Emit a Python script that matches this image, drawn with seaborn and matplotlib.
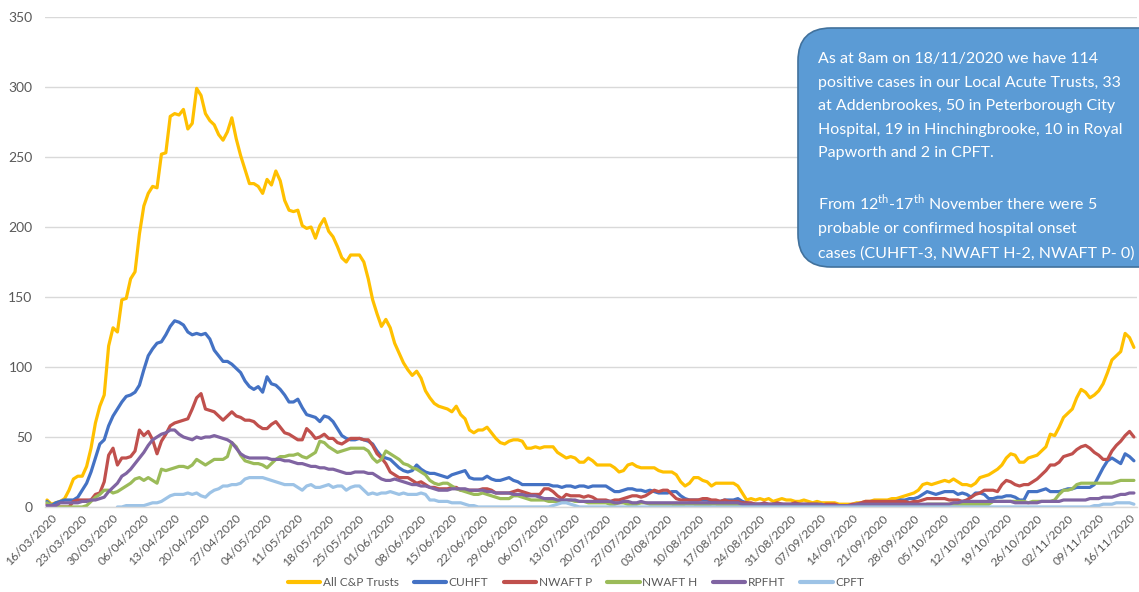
import numpy as np
import pandas as pd
import matplotlib
matplotlib.use("Agg")
import matplotlib.pyplot as plt
from matplotlib.patches import FancyBboxPatch
from matplotlib.transforms import ScaledTranslation
import seaborn as sns

start_date = "2020-03-16"
end_date = "2020-11-18"
series_names = ["All C&P Trusts", "CUHFT", "NWAFT P", "NWAFT H", "RPFHT", "CPFT"]
series_colors = ["#FFC000", "#4472C4", "#C0504D", "#9BBB59", "#8064A2", "#9DC3E6"]

all_cp = [5, 2, 3, 4, 6, 12, 20,
          22, 22, 29, 42, 60, 72, 80,
          115, 128, 125, 148, 149, 163, 168,
          195, 215, 224, 229, 228, 252, 253,
          279, 281, 280, 284, 270, 274, 299,
          294, 281, 276, 273, 266, 262, 268,
          278, 263, 251, 241, 231, 231, 229,
          224, 234, 230, 240, 233, 219, 212,
          211, 212, 201, 199, 200, 192, 201,
          206, 197, 193, 186, 178, 175, 180,
          180, 180, 175, 163, 148, 138, 129,
          134, 128, 117, 110, 103, 98, 94,
          97, 92, 83, 78, 74, 72, 71,
          70, 68, 72, 66, 63, 55, 53,
          55, 55, 57, 53, 49, 46, 45,
          47, 48, 48, 47, 42, 42, 43,
          42, 43, 43, 43, 39, 37, 35,
          36, 35, 32, 32, 35, 33, 30,
          30, 30, 30, 28, 25, 26, 30,
          31, 29, 28, 28, 28, 28, 26,
          25, 25, 25, 23, 18, 15, 17,
          21, 21, 19, 18, 15, 17, 17,
          17, 17, 17, 15, 10, 5, 6,
          5, 6, 5, 6, 4, 5, 6,
          5, 5, 4, 4, 5, 4, 3,
          4, 3, 3, 3, 3, 2, 2,
          2, 2, 3, 3, 4, 4, 5,
          5, 5, 5, 6, 6, 7, 8,
          9, 10, 12, 16, 17, 16, 17,
          18, 19, 18, 20, 18, 16, 16,
          15, 17, 21, 22, 23, 25, 27,
          30, 35, 38, 37, 32, 32, 35,
          36, 37, 40, 43, 52, 51, 57,
          64, 67, 70, 78, 84, 82, 78,
          80, 83, 88, 96, 105, 108, 111,
          124, 121, 114]

cuhft = [4, 1, 3, 4, 5, 5, 5,
         7, 12, 17, 25, 35, 45, 48,
         58, 65, 70, 75, 79, 80, 82,
         87, 98, 108, 113, 117, 118, 123,
         129, 133, 132, 130, 125, 123, 124,
         123, 124, 120, 112, 108, 104, 104,
         102, 99, 96, 90, 86, 84, 86,
         82, 93, 88, 87, 84, 80, 75,
         75, 77, 71, 66, 65, 64, 61,
         65, 64, 61, 56, 51, 49, 48,
         48, 49, 48, 47, 45, 40, 36,
         35, 34, 31, 28, 26, 25, 26,
         30, 27, 25, 24, 24, 23, 22,
         21, 23, 24, 25, 26, 21, 20,
         20, 20, 22, 20, 19, 19, 20,
         21, 19, 18, 16, 16, 16, 16,
         16, 16, 16, 15, 15, 14, 15,
         15, 14, 15, 15, 14, 15, 15,
         15, 15, 13, 11, 11, 12, 13,
         13, 12, 12, 11, 12, 11, 10,
         10, 10, 11, 11, 8, 6, 5,
         5, 5, 5, 5, 4, 4, 4,
         5, 5, 5, 6, 4, 3, 2,
         2, 2, 2, 1, 2, 2, 2,
         1, 1, 1, 1, 1, 1, 1,
         1, 1, 1, 0, 0, 0, 0,
         0, 1, 1, 2, 1, 2, 2,
         2, 2, 3, 3, 4, 5, 5,
         6, 6, 7, 9, 11, 10, 9,
         10, 11, 11, 11, 9, 10, 9,
         7, 10, 10, 9, 6, 6, 7,
         7, 8, 8, 7, 5, 5, 11,
         11, 11, 12, 13, 11, 11, 11,
         12, 13, 13, 14, 14, 14, 14,
         16, 22, 28, 33, 35, 33, 31,
         38, 36, 33]

nwaft_p = [2, 1, 0, 0, 0, 0, 4,
           5, 5, 5, 5, 9, 10, 18,
           37, 42, 30, 35, 35, 36, 40,
           55, 51, 54, 48, 38, 47, 52,
           58, 60, 61, 62, 63, 70, 78,
           81, 70, 69, 68, 65, 62, 65,
           68, 65, 64, 62, 62, 61, 58,
           56, 56, 59, 61, 57, 53, 52,
           50, 48, 48, 56, 53, 49, 50,
           52, 49, 49, 46, 45, 47, 49,
           49, 49, 48, 48, 44, 38, 35,
           31, 25, 23, 21, 21, 21, 19,
           17, 18, 16, 14, 14, 13, 13,
           13, 14, 14, 12, 12, 12, 12,
           12, 13, 13, 12, 10, 10, 10,
           10, 11, 12, 11, 10, 9, 9,
           9, 13, 13, 11, 8, 6, 9,
           8, 8, 8, 7, 8, 7, 5,
           5, 5, 4, 5, 5, 6, 7,
           8, 8, 7, 8, 10, 12, 11,
           12, 12, 9, 6, 5, 5, 5,
           5, 5, 6, 6, 5, 5, 4,
           5, 4, 4, 4, 3, 3, 3,
           2, 2, 3, 2, 2, 3, 2,
           2, 2, 3, 2, 2, 2, 2,
           2, 1, 2, 2, 2, 1, 1,
           1, 2, 2, 3, 4, 4, 4,
           4, 4, 4, 4, 4, 4, 4,
           3, 4, 4, 5, 6, 6, 6,
           6, 6, 5, 5, 5, 4, 5,
           7, 9, 10, 12, 12, 12, 11,
           16, 19, 18, 16, 15, 16, 16,
           18, 20, 23, 26, 30, 30, 32,
           36, 37, 38, 41, 43, 44, 42,
           39, 37, 34, 34, 40, 44, 47,
           51, 54, 50]

nwaft_h = [3, 1, 0, 0, 0, 0, 0,
           0, 0, 1, 4, 7, 9, 12,
           12, 10, 11, 13, 15, 17, 20,
           21, 19, 21, 19, 17, 27, 26,
           27, 28, 29, 29, 28, 30, 34,
           32, 30, 32, 34, 34, 34, 36,
           46, 43, 37, 33, 32, 31, 31,
           30, 28, 31, 34, 36, 36, 37,
           37, 38, 36, 35, 37, 39, 47,
           46, 43, 41, 39, 40, 41, 42,
           42, 42, 42, 40, 35, 32, 34,
           40, 38, 36, 34, 31, 30, 28,
           27, 25, 23, 19, 17, 16, 17,
           17, 15, 13, 12, 11, 10, 9,
           9, 10, 9, 8, 7, 6, 6,
           6, 8, 8, 7, 6, 5, 5,
           5, 5, 4, 4, 4, 4, 5,
           5, 4, 4, 4, 3, 3, 3,
           3, 3, 2, 2, 3, 3, 2,
           2, 2, 3, 3, 2, 2, 2,
           2, 2, 2, 1, 1, 2, 2,
           2, 1, 1, 1, 2, 2, 1,
           1, 1, 1, 1, 1, 1, 1,
           1, 1, 1, 1, 1, 1, 1,
           1, 1, 1, 1, 1, 1, 1,
           1, 1, 1, 1, 1, 1, 1,
           1, 1, 1, 1, 1, 1, 1,
           1, 1, 1, 1, 1, 1, 1,
           1, 1, 1, 1, 2, 2, 2,
           2, 2, 2, 2, 2, 2, 2,
           2, 2, 2, 2, 2, 4, 4,
           4, 4, 4, 4, 4, 4, 3,
           4, 4, 4, 4, 4, 5, 9,
           12, 12, 13, 16, 17, 17, 17,
           17, 17, 17, 17, 17, 18, 19,
           19, 19, 19]

rpfht = [1, 1, 1, 3, 3, 3, 3,
         3, 4, 4, 5, 5, 6, 7,
         11, 14, 17, 22, 24, 27, 31,
         35, 39, 44, 48, 50, 52, 53,
         55, 55, 52, 50, 49, 48, 50,
         49, 50, 50, 51, 50, 49, 48,
         46, 42, 38, 36, 35, 35, 35,
         35, 35, 34, 34, 34, 33, 33,
         32, 31, 31, 30, 29, 29, 28,
         28, 27, 27, 26, 25, 24, 24,
         25, 25, 25, 24, 24, 22, 20,
         19, 19, 20, 19, 18, 17, 16,
         16, 15, 15, 14, 13, 12, 12,
         12, 13, 13, 13, 13, 12, 12,
         12, 12, 11, 11, 10, 10, 10,
         10, 9, 9, 9, 8, 8, 8,
         7, 6, 6, 6, 5, 5, 5,
         5, 5, 4, 4, 4, 4, 4,
         4, 4, 4, 3, 3, 4, 4,
         3, 3, 4, 3, 3, 3, 3,
         3, 3, 3, 3, 3, 3, 3,
         3, 3, 3, 3, 3, 3, 3,
         3, 3, 3, 3, 2, 2, 2,
         2, 2, 2, 2, 2, 2, 2,
         2, 2, 2, 2, 2, 2, 2,
         2, 2, 1, 1, 1, 1, 1,
         1, 1, 2, 2, 2, 2, 2,
         2, 2, 2, 2, 2, 2, 2,
         2, 2, 2, 2, 2, 2, 2,
         2, 2, 2, 3, 3, 4, 4,
         4, 4, 4, 4, 4, 4, 4,
         4, 4, 4, 3, 3, 3, 3,
         3, 3, 4, 4, 4, 4, 4,
         5, 5, 5, 5, 5, 5, 6,
         6, 6, 7, 7, 7, 8, 9,
         9, 10, 10]

nan = np.nan
cpft = [nan, nan, nan, nan, nan, nan, nan,
        nan, nan, nan, nan, nan, nan, nan,
        nan, nan, 0, 0, 1, 1, 1,
        1, 1, 2, 3, 3, 4, 6,
        8, 9, 9, 9, 10, 9, 10,
        8, 7, 10, 12, 13, 15, 15,
        16, 16, 17, 20, 21, 21, 21,
        21, 20, 19, 18, 17, 16, 16,
        16, 14, 12, 15, 16, 14, 14,
        15, 16, 14, 15, 15, 12, 14,
        15, 15, 12, 9, 10, 9, 10,
        10, 11, 10, 9, 10, 9, 9,
        9, 10, 9, 5, 5, 4, 4,
        4, 3, 3, 3, 2, 1, 1,
        0, 0, 0, 0, 0, 0, 0,
        0, 0, 0, 0, 0, 0, 0,
        0, 0, 0, 1, 2, 3, 3,
        2, 1, 0, 0, 0, 0, 0,
        0, 0, 0, 0, 0, 0, 0,
        0, 0, 0, 0, 0, 0, 0,
        0, 0, 0, 0, 0, 0, 0,
        0, 0, 0, 0, 0, 0, 0,
        0, 0, 0, 0, 0, 0, 0,
        0, 0, 0, 0, 0, 0, 0,
        0, 0, 0, 0, 0, 0, 0,
        0, 0, 0, 0, 0, 0, 0,
        0, 0, 0, 0, 0, 0, 0,
        0, 0, 0, 0, 0, 0, 0,
        0, 0, 0, 0, 0, 0, 0,
        0, 0, 0, 0, 0, 0, 0,
        0, 0, 0, 0, 0, 0, 0,
        0, 0, 0, 0, 0, 0, 0,
        0, 0, 0, 0, 0, 0, 0,
        0, 0, 0, 0, 0, 0, 0,
        1, 1, 2, 2, 2, 3, 3,
        3, 3, 2]

y_ticks = [0, 50, 100, 150, 200, 250, 300, 350]

box_para1 = ("As at 8am on 18/11/2020 we have 114\n"
             "positive cases in our Local Acute Trusts, 33\n"
             "at Addenbrookes, 50 in Peterborough City\n"
             "Hospital, 19 in Hinchingbrooke, 10 in Royal\n"
             "Papworth and 2 in CPFT.")
box_para2 = ("From 12$^{\\mathregular{th}}$-17$^{\\mathregular{th}}$ November there were 5\n"
             "probable or confirmed hospital onset\n"
             "cases (CUHFT-3, NWAFT H-2, NWAFT P- 0)")

# ---- data frame ----
dates = pd.date_range(start_date, end_date, freq="D")
frames = []
for name, vals in zip(series_names, [all_cp, cuhft, nwaft_p, nwaft_h, rpfht, cpft]):
    frames.append(pd.DataFrame({"date": dates, "value": vals, "series": name}))
df = pd.concat(frames, ignore_index=True).dropna()

sns.set_theme(style="white")
plt.rcParams["font.family"] = ["Lato", "DejaVu Sans"]
plt.rcParams["mathtext.fontset"] = "custom"
plt.rcParams["mathtext.rm"] = "Lato"

W, H = 1139, 592
fig = plt.figure(figsize=(W / 100, H / 100), dpi=100)
fig.patch.set_facecolor("white")
ax_left, ax_right, ax_top, ax_bot = 45, 1137, 17, 507
ax = fig.add_axes([ax_left / W, 1 - ax_bot / H, (ax_right - ax_left) / W, (ax_bot - ax_top) / H])

sns.lineplot(data=df, x="date", y="value", hue="series", hue_order=series_names,
             palette=dict(zip(series_names, series_colors)), linewidth=2.3,
             estimator=None, sort=True, ax=ax, solid_joinstyle="round")

ax.set_ylim(0, 350)
d0 = pd.Timestamp(start_date)
ax.set_xlim(d0 - pd.Timedelta(hours=11), d0 + pd.Timedelta(days=247.7))
ax.set_yticks(y_ticks)
ax.set_yticklabels([str(v) for v in y_ticks])
tick_dates = pd.date_range(start_date, end_date, freq="7D")
ax.set_xticks(tick_dates)
ax.set_xticklabels([d.strftime("%d/%m/%Y") for d in tick_dates])
ax.grid(axis="y", color="#D9D9D9", linewidth=1.0)
ax.grid(axis="x", visible=False)
for s in ["left", "right", "top"]:
    ax.spines[s].set_visible(False)
ax.spines["bottom"].set_color("#D9D9D9")
ax.spines["bottom"].set_linewidth(1.0)
ax.tick_params(axis="y", length=0, pad=9, labelsize=10, labelcolor="#595959")
ax.tick_params(axis="x", length=0, pad=4, labelsize=8.7, labelcolor="#595959")
offset = ScaledTranslation(4 / 100, 0, fig.dpi_scale_trans)
for lab in ax.get_xticklabels():
    lab.set_rotation(45)
    lab.set_ha("right")
    lab.set_va("top")
    lab.set_rotation_mode("anchor")
    lab.set_transform(lab.get_transform() + offset)
ax.set_xlabel("")
ax.set_ylabel("")

sns.move_legend(ax, "center",
                bbox_to_anchor=((576 - ax_left) / (ax_right - ax_left), (ax_bot - 583) / (ax_bot - ax_top)),
                ncol=6, frameon=False, title=None, fontsize=8.6, handlelength=2.7,
                handletextpad=0.2, columnspacing=1.3)
leg = ax.get_legend()
for line in leg.get_lines():
    line.set_linewidth(3)
for t in leg.get_texts():
    t.set_color("#595959")

# ---- text box (pixel layout converted to inches) ----
bx0, by0, bx1, by1 = 798, 28, 1175, 267
box = FancyBboxPatch((bx0 / 100, (H - by1) / 100), (bx1 - bx0) / 100, (by1 - by0) / 100,
                     boxstyle="round,pad=0,rounding_size=0.33", transform=fig.dpi_scale_trans,
                     facecolor="#5B9BD5", edgecolor="#41719C", linewidth=1.2, zorder=5)
fig.add_artist(box)
fig.text(818 / W, 1 - 52 / H, box_para1, color="white", fontsize=11.5, va="top", ha="left",
         linespacing=1.87, zorder=6)
fig.text(818 / W, 1 - 192 / H, box_para2, color="white", fontsize=11.5, va="top", ha="left",
         linespacing=1.87, zorder=6)

fig.savefig("out.png", dpi=100, facecolor="white")
